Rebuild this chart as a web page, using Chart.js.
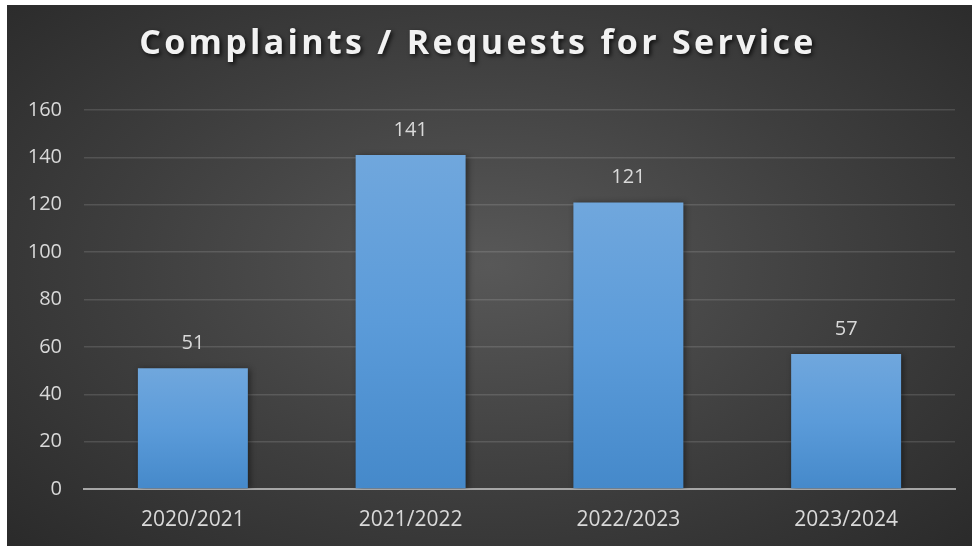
<!DOCTYPE html>
<html>
<head>
<meta charset="utf-8">
<script src="https://cdn.jsdelivr.net/npm/chart.js@4.4.1/dist/chart.umd.min.js"></script>
<style>
  html, body { margin: 0; padding: 0; background: #ffffff; }
  #marco {
    position: absolute; left: 7px; top: 5px; width: 965px; height: 541px;
    background: radial-gradient(ellipse 70% 75% at 50% 48%, #585858 0%, #3e3e3e 55%, #2a2a2a 100%);
  }
  canvas { display: block; }
</style>
</head>
<body>
<div id="marco"><canvas id="grafico" width="965" height="541"></canvas></div>
<script>
// datos
const periodos = ['2020/2021', '2021/2022', '2022/2023', '2023/2024'];
const solicitudes = [51, 141, 121, 57];
const titulo = 'Complaints / Requests for Service';

const fuente = '"Open Sans", "DejaVu Sans", sans-serif';
const grisTexto = '#d9d9d9';

// titulo con sombra, dibujado arriba del area del grafico
const pluginTitulo = {
    id: 'pluginTitulo',
    afterDraw(chart) {
        const { ctx } = chart;
        ctx.save();
        ctx.font = `bold 34px ${fuente}`;
        ctx.letterSpacing = '3.3px';
        ctx.textAlign = 'center';
        ctx.textBaseline = 'alphabetic';
        ctx.shadowColor = 'rgba(0,0,0,0.75)';
        ctx.shadowBlur = 4;
        ctx.shadowOffsetX = 2;
        ctx.shadowOffsetY = 2;
        ctx.fillStyle = '#f2f2f2';
        ctx.fillText(titulo, 471, 49);
        ctx.restore();
    }
};

// sombra suave de las barras
const pluginSombra = {
    id: 'pluginSombra',
    beforeDatasetDraw(chart) {
        const { ctx } = chart;
        ctx.save();
        ctx.shadowColor = 'rgba(0,0,0,0.45)';
        ctx.shadowBlur = 6;
        ctx.shadowOffsetX = 2;
        ctx.shadowOffsetY = 1;
    },
    afterDatasetDraw(chart) {
        chart.ctx.restore();
    }
};

// etiquetas de valor encima de cada barra
const pluginEtiquetas = {
    id: 'pluginEtiquetas',
    afterDatasetsDraw(chart) {
        const { ctx } = chart;
        const meta = chart.getDatasetMeta(0);
        ctx.save();
        ctx.font = `20px ${fuente}`;
        ctx.fillStyle = grisTexto;
        ctx.textAlign = 'center';
        ctx.textBaseline = 'middle';
        meta.data.forEach((barra, i) => {
            ctx.fillText(String(solicitudes[i]), barra.x, barra.y - 25);
        });
        ctx.restore();
    }
};

function rellenoBarra(context) {
    const chart = context.chart;
    if (!chart.chartArea || !chart.scales.y) return '#5b9bd5';
    const y = chart.scales.y;
    const arriba = y.getPixelForValue(context.raw);
    const abajo = y.getPixelForValue(0);
    const g = chart.ctx.createLinearGradient(0, arriba, 0, abajo);
    g.addColorStop(0, '#70a7dd');
    g.addColorStop(0.5, '#5b9bd9');
    g.addColorStop(1, '#4589ca');
    return g;
}

const ctx = document.getElementById('grafico').getContext('2d');
const miGrafico = new Chart(ctx, {
    type: 'bar',
    data: {
        labels: periodos,
        datasets: [{
            data: solicitudes,
            backgroundColor: rellenoBarra,
            borderWidth: 0,
            barPercentage: 0.505,
            categoryPercentage: 1
        }]
    },
    options: {
        responsive: false,
        devicePixelRatio: 1,
        animation: false,
        layout: { padding: { top: 105, right: 17, bottom: 0, left: 0 } },
        plugins: {
            legend: { display: false },
            tooltip: { enabled: false },
            title: { display: false }
        },
        scales: {
            x: {
                grid: { display: false, drawTicks: false },
                border: { display: true, color: '#a6a6a6', width: 2 },
                ticks: { color: grisTexto, font: { size: 21, family: fuente }, padding: 18 },
                afterFit(scale) { scale.height = 57; }
            },
            y: {
                min: 0,
                max: 160,
                ticks: { stepSize: 20, color: grisTexto, font: { size: 20, family: fuente }, padding: 22 },
                grid: { color: 'rgba(255,255,255,0.13)', lineWidth: 1.5, drawTicks: false },
                border: { display: false },
                afterFit(scale) { scale.width = 77; }
            }
        }
    },
    plugins: [pluginSombra, pluginEtiquetas, pluginTitulo]
});
</script>
</body>
</html>
